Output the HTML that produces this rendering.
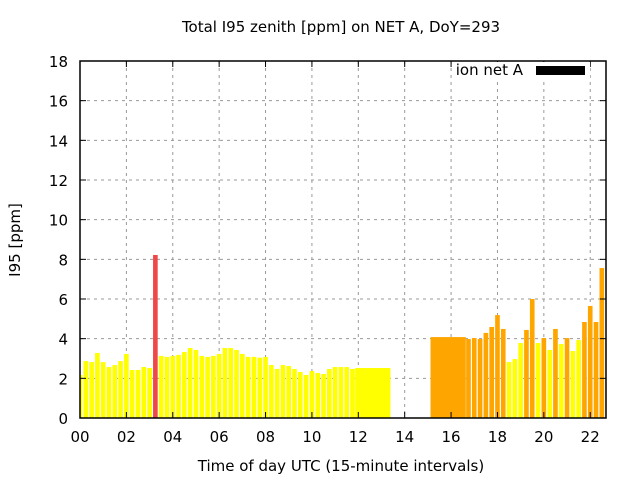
<!DOCTYPE html>
<html><head><meta charset="utf-8"><style>
body{margin:0;background:#fff;}
svg text{font-family:"DejaVu Sans","Liberation Sans",sans-serif;}
</style></head><body>
<svg id="chart" width="640" height="480" xmlns="http://www.w3.org/2000/svg">
<rect width="640" height="480" fill="#fff"/>
<text x="341" y="32" font-size="15" text-anchor="middle">Total I95 zenith [ppm] on NET A, DoY=293</text>
<g id="grid"></g>
<g id="bars"></g>
<g id="axes"></g>
<text transform="translate(20,240) rotate(-90)" font-size="15" text-anchor="middle">I95 [ppm]</text>
<text x="341" y="471" font-size="15" text-anchor="middle">Time of day UTC (15-minute intervals)</text>
<g>
<rect x="452" y="62" width="138" height="20" fill="#fff"/>
<text x="523" y="75" font-size="15" text-anchor="end">ion net A</text>
<rect x="536" y="66" width="49" height="9" fill="#000"/>
</g>
</svg>
<script>
const slots = [0,1,2,3,4,5,6,7,8,9,10,11,12,13,14,15,16,17,18,19,20,21,22,23,24,25,26,27,28,29,30,31,32,33,34,35,36,37,38,39,40,41,42,43,44,45,46,47,48,49,50,51,52,53,61,62,63,64,65,66,67,68,69,70,71,72,73,74,75,76,77,78,79,80,81,82,83,84,85,86,87,88,89,90,91];
const values = [2.17,2.87,2.82,3.28,2.82,2.57,2.67,2.87,3.23,2.42,2.42,2.57,2.52,8.22,3.13,3.08,3.13,3.18,3.33,3.53,3.43,3.13,3.08,3.13,3.23,3.53,3.53,3.43,3.23,3.08,3.08,3.04,3.08,2.67,2.47,2.67,2.62,2.47,2.32,2.17,2.37,2.27,2.22,2.47,2.57,2.57,2.57,2.47,2.52,2.52,2.52,2.52,2.52,2.52,4.08,4.08,4.08,4.08,4.08,4.08,3.98,4.03,3.98,4.29,4.59,5.19,4.49,2.82,2.97,3.78,4.44,6.0,3.78,4.03,3.43,4.49,3.73,4.03,3.38,3.93,4.84,5.65,4.84,7.56,4.03];
const levels = ["y","y","y","y","y","y","y","y","y","y","y","y","y","r","y","y","y","y","y","y","y","y","y","y","y","y","y","y","y","y","y","y","y","y","y","y","y","y","y","y","y","y","y","y","y","y","y","y","w","w","w","w","w","w","o","o","o","o","o","o","o","o","o","o","o","o","o","y","y","y","o","o","y","o","y","o","y","o","y","y","o","o","o","o","o"];
const yTicks = [0,2,4,6,8,10,12,14,16,18];
const xTicks = ["00","02","04","06","08","10","12","14","16","18","20","22"];

const L=80,R=606,T=61,B=418,XMAX=22.68,YMAX=18;
const xs = h => L + h/XMAX*(R-L);
const ys = v => B - v/YMAX*(B-T);
const NS="http://www.w3.org/2000/svg";
function mk(tag, parent, attrs){const e=document.createElementNS(NS,tag);for(const k in attrs)e.setAttribute(k,attrs[k]);parent.appendChild(e);return e;}
const grid=document.getElementById('grid'),bars=document.getElementById('bars'),axes=document.getElementById('axes');
const colors={y:"#ffff00",o:"#ffa500",r:"#f04848",w:"#ffff00"};
const slotW = xs(0.25)-xs(0);
yTicks.forEach(v=>{
  const y=ys(v);
  if(v>0&&v<YMAX){const g=mk('line',grid,{x1:L,x2:R,y1:y,y2:y,stroke:"#999","stroke-dasharray":"3,4"});
  
  }
  const t=mk('text',axes,{x:L-12,y:y+6,"font-size":"15","text-anchor":"end"});t.textContent=v;
  
  
  mk('line',axes,{x1:L,x2:L+6,y1:y,y2:y,stroke:"#000"});
  mk('line',axes,{x1:R,x2:R-6,y1:y,y2:y,stroke:"#000"});
});
xTicks.forEach(s=>{
  const x=xs(+s);
  if(+s>0){const g=mk('line',grid,{x1:x,x2:x,y1:T,y2:B,stroke:"#999","stroke-dasharray":"3,4"});
  
  }
  const t=mk('text',axes,{x:x,y:B+24,"font-size":"15","text-anchor":"middle"});t.textContent=s;
  
  
  mk('line',axes,{x1:x,x2:x,y1:B,y2:B-6,stroke:"#000"});
  mk('line',axes,{x1:x,x2:x,y1:T,y2:T+6,stroke:"#000"});
});
const clip=mk('clipPath',document.getElementById('chart'),{id:"pc"});
mk('rect',clip,{x:L,y:T,width:R-L,height:B-T});
bars.setAttribute('clip-path','url(#pc)');
slots.forEach((s,i)=>{
  const cx=xs(s*0.25);
  const w = levels[i]==="w"||(levels[i]==="o"&&s<=66) ? slotW+0.5 : slotW*0.8;
  const y=ys(values[i]);
  const b=mk('rect',bars,{x:cx-w/2,y:y,width:w,height:B-y,fill:colors[levels[i]]});
  
  
});
const f=mk('rect',axes,{x:L,y:T,width:R-L,height:B-T,fill:"none",stroke:"#000","stroke-width":"1.5"});


</script>
</body></html>
